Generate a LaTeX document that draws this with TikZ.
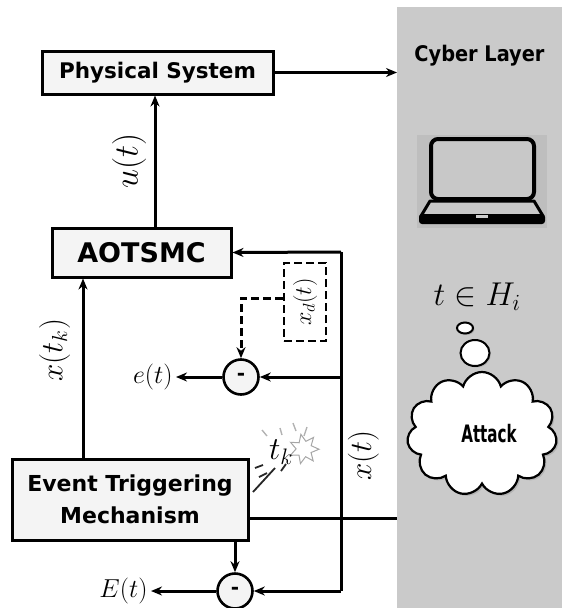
\RequirePackage{fix-cm}
\documentclass[tikz,border=0pt]{standalone}
\usepackage{fontspec}
\setsansfont{DejaVu Sans}
\newfontfamily\condfont{DejaVu Sans Condensed}
\usepackage{tikz}
\usetikzlibrary{arrows.meta,shapes.geometric,shapes.symbols,shadows}

\definecolor{panelgray}{RGB}{202,202,202}
\definecolor{boxfill}{RGB}{244,244,244}
\definecolor{lapbg}{RGB}{190,190,190}
\definecolor{screengray}{RGB}{200,200,200}

\tikzset{
  blockbox/.style={draw, line width=3pt, fill=boxfill, inner sep=0pt},
  sumnode/.style={circle, draw, line width=2.6pt, fill=boxfill, minimum size=35pt, inner sep=0pt,
    font=\sffamily\bfseries\fontsize{20}{20}\selectfont},
  sig/.style={line width=3pt, -{Stealth[length=11pt,width=9pt]}},
  wire/.style={line width=3pt},
  bubble/.style={ellipse, draw, line width=2pt, fill=white, inner sep=0pt,
    drop shadow={opacity=0.3,shadow xshift=1.5pt,shadow yshift=-1.5pt}},
}

\begin{document}
\begin{tikzpicture}[x=1pt,y=-1pt]
  \useasboundingbox (0,0) rectangle (562,608);

  %Cyber layer
  \node[fill=panelgray, minimum width=165pt, minimum height=601pt, inner sep=0pt, anchor=north west] (cyber) at (397,7) {};
  \node[font=\condfont\bfseries\fontsize{21.5}{24}\selectfont] (cyberlab) at (479.5,56) {Cyber Layer};

  %Laptop
  \fill[lapbg] (417,135) rectangle (547,228);
  \draw[line width=4pt, rounded corners=7pt, fill=screengray] (431,139) rectangle (534,199);
  \draw[line width=3pt, line join=round, fill=screengray] (430,201) -- (534,201) -- (543,216) -- (421,216) -- cycle;
  \fill[black, rounded corners=3pt] (419,214) rectangle (545,224);
  \fill[gray!40] (476,215) rectangle (488,218);

  %Attack
  \node[font=\fontsize{33}{33}\selectfont] (hlab) at (477,297) {$t\in H_i$};
  \node[bubble, minimum width=16pt, minimum height=11pt] (bub1) at (465,328) {};
  \node[bubble, minimum width=29pt, minimum height=26pt] (bub2) at (475,353) {};
  \node[cloud, cloud puffs=11, draw, line width=2.2pt, fill=white, minimum width=150pt, minimum height=124pt,
    drop shadow={opacity=0.3,shadow xshift=2pt,shadow yshift=-2pt}] (attack) at (482,434) {};
  \node[font=\condfont\bfseries\fontsize{24}{24}\selectfont, xscale=0.7] (attacklab) at (489,434) {Attack};

  %Blocks
  \node[blockbox, minimum width=231pt, minimum height=43pt, font=\sffamily\bfseries\fontsize{21.5}{24}\selectfont] (phys) at (157.5,72.5) {Physical System};
  \node[blockbox, minimum width=179pt, minimum height=49pt, font=\sffamily\bfseries\fontsize{27}{30}\selectfont] (aotsmc) at (141.5,252.5) {AOTSMC};
  \node[blockbox, minimum width=236pt, minimum height=81pt, align=center, font=\sffamily\bfseries\fontsize{22}{32}\selectfont] (etm) at (130,499.5) {Event Triggering\\Mechanism};
  \node[draw, line width=2.6pt, dash pattern=on 8pt off 4pt, minimum width=42pt, minimum height=78pt, inner sep=0pt] (xd) at (305,302) {};
  \node[rotate=90, font=\fontsize{24}{24}\selectfont] (xdlab) at (xd) {$x_d(t)$};

  \node[sumnode] (sume) at (241,377) {-};
  \node[sumnode] (sumE) at (235,591) {-};

  %Signals
  \node[font=\fontsize{26}{26}\selectfont, anchor=east] (elab) at (176,377) {$e(t)$};
  \node[font=\fontsize{26}{26}\selectfont, anchor=east] (Elab) at (151,591) {$E(t)$};
  \coordinate (xtop) at (341,252);
  \coordinate (xbot) at (341,591);

  \draw[sig] (phys.east) -- (phys.east -| cyber.west);
  \draw[sig] ([xshift=13.5pt]aotsmc.north) -- ([xshift=13.5pt]aotsmc.north |- phys.south)
    node[midway, left=4pt, rotate=90, anchor=south, font=\fontsize{34}{34}\selectfont] (ulab) {$u(t)$};
  \draw[wire] (xtop) -- (xbot)
    node[pos=0.6, right=2pt, rotate=90, anchor=north, font=\fontsize{31}{31}\selectfont] (xlab) {$x(t)$};
  \draw[sig] (xtop) -- (aotsmc.east);
  \draw[sig] (xtop |- sume) -- (sume.east);
  \draw[sig] (xbot) -- (sumE.east);
  \draw[sig] (sume.west) -- (elab.east);
  \draw[sig] (sumE.west) -- (Elab.east);
  \draw[sig, dash pattern=on 8pt off 4pt] ([yshift=4pt]xd.west) -| (sume.north);
  \draw[sig] (etm.south -| sumE) -- (sumE.north);
  \draw[sig] ([xshift=-47pt]etm.north) -- ([xshift=-47pt]etm.north |- aotsmc.south)
    node[pos=0.6, rotate=90, anchor=south, yshift=8pt, font=\fontsize{31}{31}\selectfont] (xklab) {$x(t_k)$};
  \draw[wire] ([yshift=-18.5pt]etm.east) -- ([yshift=-18.5pt]etm.east -| cyber.west);

  %Trigger spark
  \node[star, star points=7, star point ratio=1.9, draw=gray!70, line width=1pt, minimum size=30pt, rotate=12] (spark) at (304,449) {};
  \node[font=\fontsize{32}{32}\selectfont] (tk) at (281,452) {$t_k$};
  \foreach \xa/\ya/\xb/\yb in {253/492/275/468, 255/468/263/465, 281/471/286/464, 259/477/267/473}
    \draw[line width=1.8pt, gray!30!black] (\xa,\ya) -- (\xb,\yb);
  \foreach \xa/\ya/\xb/\yb in {262/430/267/436, 280/428/282/435, 293/423/296/431, 307/427/304/436}
    \draw[line width=1.4pt, gray!60] (\xa,\ya) -- (\xb,\yb);

\end{tikzpicture}
\end{document}
